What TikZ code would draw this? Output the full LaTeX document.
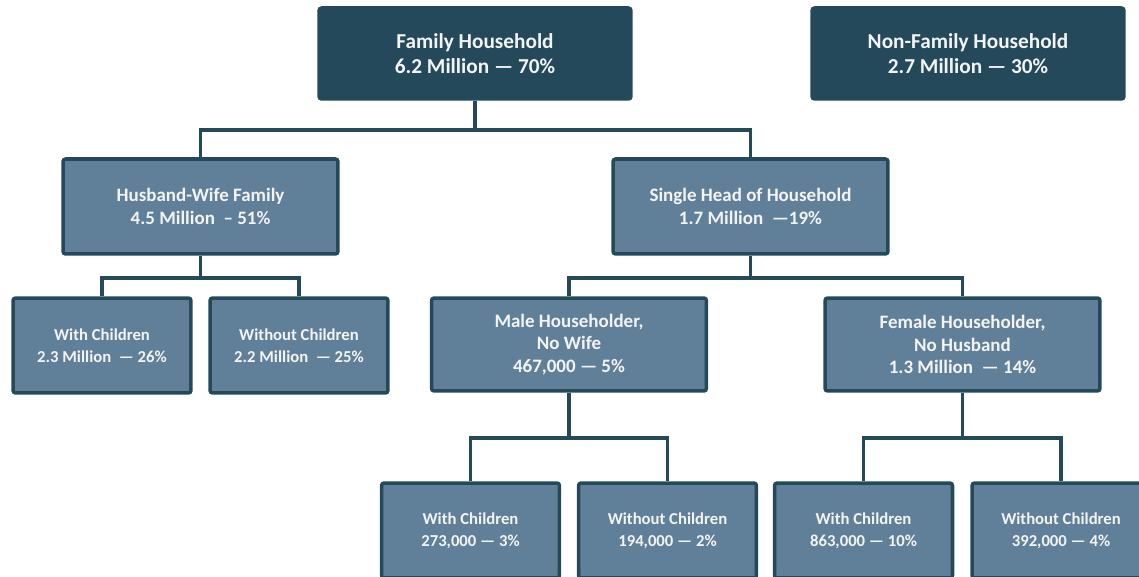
\documentclass[tikz,border=0pt]{standalone}
\usepackage{fontspec}
\setmainfont{Carlito}
\definecolor{topfill}{HTML}{24495A}
\definecolor{boxfill}{HTML}{60809A}
\definecolor{boxedge}{HTML}{244A5A}
\definecolor{boxtext}{HTML}{F4F4F4}
\tikzset{
  topbox/.style={draw=topfill, fill=topfill, rounded corners=1.5pt, line width=2pt,
    text=boxtext, font=\bfseries\fontsize{12.1}{14}\selectfont, align=center,
    minimum width=6.24cm, minimum height=1.82cm},
  midbox/.style={draw=boxedge, fill=boxfill, rounded corners=1.5pt, line width=2pt,
    text=boxtext, font=\bfseries\fontsize{10.8}{13}\selectfont, align=center,
    minimum width=5.5cm, minimum height=1.9cm},
  leafbox/.style={draw=boxedge, fill=boxfill, rounded corners=1.5pt, line width=2pt,
    text=boxtext, font=\bfseries\fontsize{9.5}{12.5}\selectfont, align=center,
    minimum width=3.56cm, minimum height=1.9cm},
  link/.style={draw=boxedge, line width=2pt}
}
\begin{document}
\begin{tikzpicture}[x=0.02cm, y=-0.02cm]
\useasboundingbox (0,0) rectangle (1139,577);
\clip (0,0) rectangle (1139,577);

\node[topbox] (fam) at (475,53.5) {Family Household\\6.2 Million — 70\%};
\node[topbox] (nonfam) at (968,53.5) {Non-Family Household\\2.7 Million — 30\%};

\node[midbox] (hw) at (200.5,206.5) {Husband-Wife Family\\4.5 Million ~– 51\%};
\node[midbox] (sh) at (750.5,206.5) {Single Head of Household\\1.7 Million ~—19\%};

\node[leafbox] (hwc) at (102,345.5) {With Children\\2.3 Million ~— 26\%};
\node[leafbox] (hwn) at (299,345.5) {Without Children\\2.2 Million ~— 25\%};
\node[midbox, minimum height=1.86cm] (male) at (569,344.5) {Male Householder,\\No Wife\\467,000 — 5\%};
\node[midbox, minimum height=1.86cm] (female) at (962.5,344.5) {Female Householder,\\No Husband\\1.3 Million ~— 14\%};

\node[leafbox] (mc) at (470.5,530.5) {With Children\\273,000 — 3\%};
\node[leafbox] (mn) at (667.5,530.5) {Without Children\\194,000 — 2\%};
\node[leafbox] (fc) at (863.5,530.5) {With Children\\863,000 — 10\%};
\node[leafbox] (fn) at (1061,530.5) {Without Children\\392,000 — 4\%};

% tree lines
\path[link] (fam.south) -- ++(0,29) -| (hw.north);
\path[link] (fam.south) -- ++(0,29) -| (sh.north);
\path[link] (hw.south) -- ++(0,22) -| (hwc.north);
\path[link] (hw.south) -- ++(0,22) -| (hwn.north);
\path[link] (sh.south) -- ++(0,22) -| (male.north);
\path[link] (sh.south) -- ++(0,22) -| (female.north);
\path[link] (male.south) -- ++(0,45) -| (mc.north);
\path[link] (male.south) -- ++(0,45) -| (mn.north);
\path[link] (female.south) -- ++(0,45) -| (fc.north);
\path[link] (female.south) -- ++(0,45) -| (fn.north);
\end{tikzpicture}
\end{document}
